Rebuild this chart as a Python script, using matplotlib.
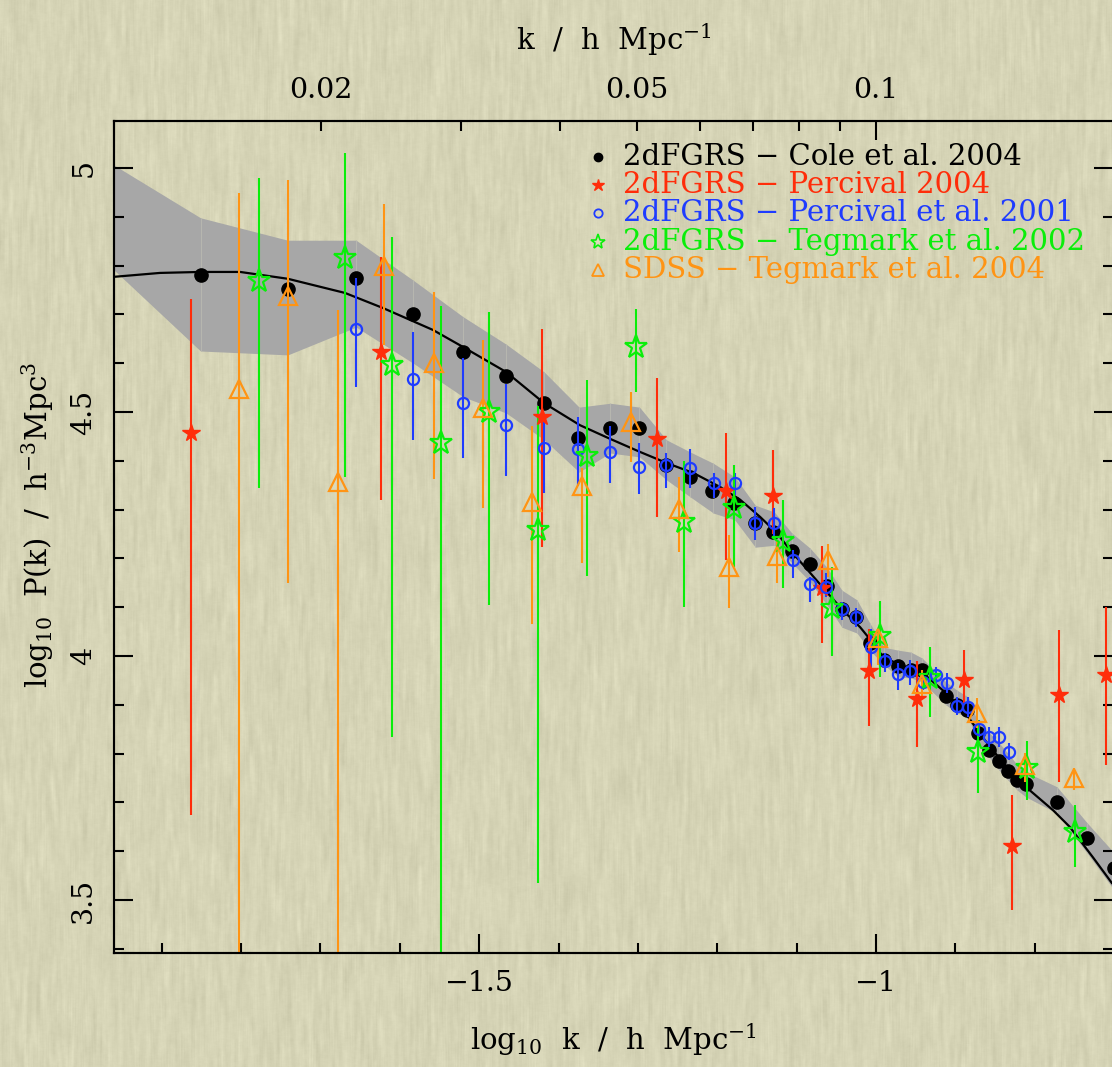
import numpy as np
import matplotlib
matplotlib.use("Agg")
import matplotlib.pyplot as plt
from matplotlib.ticker import MultipleLocator

plt.rcParams["font.family"] = ["DejaVu Serif"]
plt.rcParams["mathtext.fontset"] = "dejavuserif"

# Model P(k) uncertainty band
band_logk = [-1.960, -1.851, -1.741, -1.655, -1.583, -1.520, -1.466, -1.418, -1.374, -1.335,
             -1.298, -1.264, -1.234, -1.205, -1.178, -1.152, -1.128, -1.106, -1.083, -1.062,
             -1.043, -1.024, -1.008, -0.990, -0.972, -0.956, -0.942, -0.912, -0.898, -0.884,
             -0.872, -0.858, -0.845, -0.834, -0.822, -0.811, -0.772, -0.734, -0.703]
band_hi = [5.006, 4.898, 4.852, 4.852, 4.770, 4.695, 4.639, 4.582, 4.510, 4.518,
           4.510, 4.443, 4.418, 4.395, 4.367, 4.309, 4.295, 4.252, 4.221, 4.182,
           4.135, 4.115, 4.068, 4.018, 4.012, 4.008, 3.996, 3.947, 3.930, 3.916,
           3.865, 3.844, 3.822, 3.801, 3.777, 3.762, 3.732, 3.658, 3.602]
band_lo = [4.791, 4.625, 4.617, 4.674, 4.600, 4.531, 4.498, 4.443, 4.377, 4.416,
           4.408, 4.361, 4.326, 4.293, 4.279, 4.223, 4.227, 4.191, 4.152, 4.105,
           4.059, 4.047, 4.012, 3.982, 3.957, 3.955, 3.947, 3.900, 3.883, 3.875,
           3.824, 3.793, 3.766, 3.746, 3.725, 3.711, 3.678, 3.596, 3.527]

# Best-fit model curve
model_logk = [-1.960, -1.902, -1.851, -1.801, -1.741, -1.669, -1.621, -1.558, -1.520, -1.466,
              -1.418, -1.373, -1.335, -1.297, -1.263, -1.230, -1.196, -1.171, -1.146, -1.125,
              -1.105, -1.086, -1.062, -1.042, -1.020, -1.004, -0.991, -0.970, -0.941, -0.916,
              -0.890, -0.865, -0.840, -0.810, -0.777, -0.756, -0.727, -0.703]
model_logp = [4.777, 4.785, 4.787, 4.787, 4.773, 4.744, 4.713, 4.668, 4.633, 4.582,
              4.518, 4.473, 4.445, 4.418, 4.395, 4.375, 4.346, 4.320, 4.285, 4.252,
              4.211, 4.176, 4.131, 4.094, 4.059, 4.027, 3.998, 3.982, 3.965, 3.930,
              3.889, 3.832, 3.781, 3.730, 3.684, 3.650, 3.588, 3.535]

# 2dFGRS - Cole et al. 2004
cole_logk = [-1.851, -1.741, -1.655, -1.583, -1.520, -1.466, -1.418, -1.375, -1.335, -1.298,
             -1.264, -1.234, -1.207, -1.179, -1.152, -1.130, -1.106, -1.083, -1.062, -1.043,
             -1.025, -1.008, -0.990, -0.972, -0.956, -0.942, -0.912, -0.898, -0.885, -0.872,
             -0.858, -0.845, -0.834, -0.822, -0.811, -0.772, -0.734, -0.700]
cole_logp = [4.781, 4.752, 4.775, 4.701, 4.623, 4.574, 4.518, 4.447, 4.467, 4.467,
             4.391, 4.367, 4.338, 4.314, 4.273, 4.254, 4.215, 4.189, 4.143, 4.096,
             4.080, 4.027, 3.992, 3.980, 3.971, 3.971, 3.918, 3.900, 3.889, 3.842,
             3.807, 3.785, 3.764, 3.746, 3.738, 3.701, 3.627, 3.566]

# 2dFGRS - Percival 2004
p04_logk = [-1.863, -1.623, -1.421, -1.276, -1.189, -1.130, -1.068, -1.009, -0.948, -0.889,
            -0.829, -0.770, -0.710]
p04_logp = [4.457, 4.623, 4.490, 4.445, 4.338, 4.328, 4.139, 3.969, 3.912, 3.951,
            3.611, 3.920, 3.961]
p04_hi = [4.732, 4.818, 4.670, 4.570, 4.457, 4.422, 4.225, 4.055, 3.990, 4.012,
          3.715, 4.053, 4.100]
p04_lo = [3.674, 4.320, 4.223, 4.285, 4.197, 4.250, 4.027, 3.857, 3.814, 3.904,
          3.480, 3.742, 3.777]

# 2dFGRS - Percival et al. 2001
p01_logk = [-1.655, -1.583, -1.520, -1.466, -1.418, -1.375, -1.335, -1.298, -1.264, -1.234,
            -1.204, -1.178, -1.152, -1.128, -1.105, -1.083, -1.063, -1.043, -1.025, -1.006,
            -0.989, -0.972, -0.957, -0.941, -0.924, -0.911, -0.898, -0.884, -0.870, -0.858,
            -0.845, -0.833]
p01_logp = [4.670, 4.568, 4.518, 4.473, 4.426, 4.424, 4.418, 4.387, 4.391, 4.385,
            4.355, 4.355, 4.273, 4.273, 4.197, 4.148, 4.141, 4.096, 4.080, 4.018,
            3.990, 3.963, 3.969, 3.947, 3.961, 3.945, 3.898, 3.895, 3.850, 3.834,
            3.834, 3.803]
p01_hi = [4.775, 4.664, 4.611, 4.557, 4.484, 4.490, 4.471, 4.436, 4.416, 4.424,
          4.375, 4.375, 4.305, 4.303, 4.217, 4.162, 4.170, 4.111, 4.098, 4.055,
          4.006, 3.986, 3.992, 3.965, 3.977, 3.965, 3.916, 3.916, 3.869, 3.854,
          3.854, 3.822]
p01_lo = [4.551, 4.443, 4.406, 4.369, 4.334, 4.348, 4.355, 4.332, 4.344, 4.344,
          4.324, 4.330, 4.238, 4.242, 4.160, 4.111, 4.121, 4.074, 4.059, 3.977,
          3.967, 3.930, 3.941, 3.930, 3.941, 3.924, 3.879, 3.875, 3.834, 3.814,
          3.814, 3.787]

# 2dFGRS - Tegmark et al. 2002
t02_logk = [-1.777, -1.669, -1.610, -1.548, -1.487, -1.426, -1.364, -1.302, -1.242, -1.179,
            -1.117, -1.055, -0.995, -0.932, -0.872, -0.810, -0.749]
t02_logp = [4.768, 4.816, 4.596, 4.436, 4.500, 4.258, 4.410, 4.633, 4.275, 4.303,
            4.236, 4.098, 4.041, 3.955, 3.803, 3.770, 3.639]
t02_hi = [4.980, 5.031, 4.859, 4.717, 4.705, 4.512, 4.566, 4.711, 4.400, 4.391,
          4.320, 4.182, 4.113, 4.018, 3.869, 3.826, 3.695]
t02_lo = [4.344, 4.367, 3.834, 3.200, 4.105, 3.535, 4.164, 4.541, 4.100, 4.182,
          4.139, 4.000, 3.957, 3.875, 3.719, 3.705, 3.568]

# SDSS - Tegmark et al. 2004
s04_logk = [-1.802, -1.741, -1.678, -1.620, -1.557, -1.495, -1.433, -1.370, -1.309, -1.248,
            -1.185, -1.125, -1.060, -0.997, -0.942, -0.873, -0.812, -0.751]
s04_logp = [4.547, 4.738, 4.357, 4.799, 4.600, 4.508, 4.316, 4.348, 4.480, 4.301,
            4.182, 4.205, 4.197, 4.037, 3.943, 3.883, 3.777, 3.750]
s04_hi = [4.949, 4.975, 4.709, 4.926, 4.746, 4.648, 4.471, 4.385, 4.541, 4.367,
          4.248, 4.238, 4.230, 4.053, 3.971, 3.914, 3.801, 3.770]
s04_lo = [3.200, 4.150, 3.200, 4.637, 4.363, 4.303, 4.066, 4.191, 4.398, 4.213,
          4.098, 4.150, 4.162, 3.982, 3.916, 3.852, 3.742, 3.725]

top_ticks_k = [0.02, 0.03, 0.04, 0.05, 0.06, 0.07, 0.08, 0.09]
top_labels = ["0.02", "", "", "0.05", "", "", "", ""]

PAPER = "#d6d4b6"
RED = "#ff2d0a"
BLUE = "#1f3cff"
GREEN = "#0aee0a"
ORANGE = "#ff9414"
GREY = "#a7a7a7"
W, H = 1112, 1067


def errbar(ax, x, y, lo, hi, ecol, **kw):
    x, y, lo, hi = map(np.asarray, (x, y, lo, hi))
    ax.errorbar(x, y, yerr=[y - lo, hi - y], fmt="none", ecolor=ecol,
                elinewidth=1.5, capsize=0, zorder=3)
    ax.plot(x, y, linestyle="none", **kw)


def paper_texture(w, h, seed=7):
    # faint vertical grain for the paper background
    rng = np.random.default_rng(seed)
    g = rng.normal(size=(h + 40, w + 5))
    c = np.cumsum(g, axis=0)
    g = (c[30:] - c[:-30])[:h]
    c = np.cumsum(g, axis=1)
    g = (c[:, 4:] - c[:, :-4])[:, :w]
    g = g / g.std()
    base = np.array(matplotlib.colors.to_rgb(PAPER))
    img = base[None, None, :] + 0.012 * g[..., None]
    return np.clip(img, 0, 1)


fig = plt.figure(figsize=(W / 100, H / 100), dpi=100)
fig.patch.set_facecolor(PAPER)

bg = fig.add_axes([0, 0, 1, 1], zorder=-10)
bg.imshow(paper_texture(W, H), aspect="auto", interpolation="nearest")
bg.set_axis_off()

ax = fig.add_axes([0.1025, 0.1068, 0.8984, 0.7798], zorder=1)
ax.set_facecolor("none")

ax.fill_between(band_logk, band_lo, band_hi, color=GREY, lw=0, zorder=1)
ax.vlines(band_logk, band_lo, band_hi, color="#b9b9b1", lw=0.6, zorder=1.1)
ax.plot(model_logk, model_logp, color="black", lw=1.6, zorder=2)

ax.plot(cole_logk, cole_logp, "o", color="black", ms=9.5, zorder=3)
errbar(ax, p04_logk, p04_logp, p04_lo, p04_hi, RED,
       marker="*", color=RED, ms=13, mec=RED, zorder=4)
errbar(ax, p01_logk, p01_logp, p01_lo, p01_hi, BLUE,
       marker="o", mfc="none", mec=BLUE, mew=1.6, ms=8, zorder=4)
errbar(ax, t02_logk, t02_logp, t02_lo, t02_hi, GREEN,
       marker="*", mfc="none", mec=GREEN, mew=1.6, ms=17, zorder=5)
errbar(ax, s04_logk, s04_logp, s04_lo, s04_hi, ORANGE,
       marker="^", mfc="none", mec=ORANGE, mew=1.6, ms=13, zorder=5)

ax.set_xlim(-1.960, -0.7015)
ax.set_ylim(3.3914, 5.0963)

ax.xaxis.set_minor_locator(MultipleLocator(0.1))
ax.yaxis.set_minor_locator(MultipleLocator(0.1))
ax.set_xticks([-1.5, -1.0], ["\u22121.5", "\u22121"])
ax.set_yticks([3.5, 4.0, 4.5, 5.0], ["3.5", "4", "4.5", "5"])
ax.tick_params(which="both", direction="in", top=False, right=True,
               width=1.5, labelsize=20.5, pad=12)
ax.tick_params(which="major", length=14)
ax.tick_params(which="minor", length=7)
for lab in ax.get_yticklabels():
    lab.set_rotation(90)
    lab.set_va("center")
for sp in ax.spines.values():
    sp.set_linewidth(1.5)

top = ax.twiny()
top.set_xlim(ax.get_xlim())
top.set_xticks([np.log10(0.1)], ["0.1"])
top.set_xticks(np.log10(top_ticks_k), top_labels, minor=True)
top.tick_params(which="both", direction="in", width=1.5, labelsize=20.5, pad=12)
top.tick_params(which="major", length=14)
top.tick_params(which="minor", length=7)
for sp in top.spines.values():
    sp.set_linewidth(1.5)

ax.set_xlabel(r"log$_{10}$  k  /  h  Mpc$^{-1}$", fontsize=21, labelpad=18)
ax.set_ylabel(r"log$_{10}$  P(k)  /  h$^{-3}$Mpc$^3$", fontsize=21, labelpad=8)
ax.yaxis.set_label_coords(-0.058, 0.514)
top.set_xlabel(r"k  /  h  Mpc$^{-1}$", fontsize=21, labelpad=20)

# Legend drawn row by row in figure coordinates
legend_rows = [
    ("2dFGRS \u2212 Cole et al. 2004", "black", dict(marker="o", color="black", ms=6)),
    ("2dFGRS \u2212 Percival 2004", RED, dict(marker="*", color=RED, ms=9)),
    ("2dFGRS \u2212 Percival et al. 2001", BLUE, dict(marker="o", mfc="none", mec=BLUE, mew=1.3, ms=6)),
    ("2dFGRS \u2212 Tegmark et al. 2002", GREEN, dict(marker="*", mfc="none", mec=GREEN, mew=1.2, ms=11)),
    ("SDSS \u2212 Tegmark et al. 2004", ORANGE, dict(marker="^", mfc="none", mec=ORANGE, mew=1.3, ms=8)),
]
row_px = [157, 185, 213, 242, 270]
for (text, col, mk), ypx in zip(legend_rows, row_px):
    yf = 1 - ypx / H
    fig.add_artist(plt.Line2D([598 / W], [yf], transform=fig.transFigure, zorder=5, **mk))
    fig.text(623 / W, yf, text, color=col, fontsize=21, va="center", ha="left", zorder=5)

fig.savefig("out.png", dpi=100, facecolor=PAPER)
